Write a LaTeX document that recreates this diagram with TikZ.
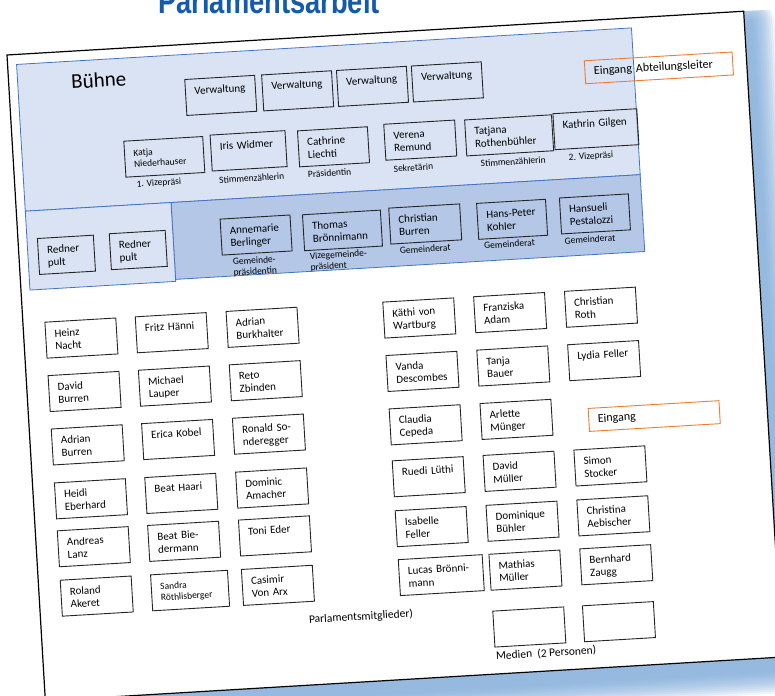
\documentclass[tikz,border=0pt]{standalone}
\usepackage{fontspec}
\setmainfont{Carlito}
\newfontfamily\headfont[FakeStretch=0.78]{Liberation Sans}

\definecolor{stagelight}{RGB}{218,227,243}
\definecolor{stagedark}{RGB}{180,199,231}
\definecolor{stageline}{RGB}{68,114,196}
\definecolor{doorline}{RGB}{237,125,49}
\definecolor{headblue}{RGB}{20,92,170}
\definecolor{glow}{RGB}{120,166,214}

\tikzset{
  seat/.style={draw=black!85, line width=0.9pt, text width=#1, align=left,
    inner xsep=9, inner ysep=4, text height=11.5, text depth=16.5,
    font=\fontsize{11}{12.7}\selectfont},
  seat/.default=53,
  smallname/.style={font=\fontsize{9.5}{11}\selectfont},
  role/.style={inner sep=0, align=left, font=\fontsize{9.5}{11}\selectfont},
  door/.style={draw=doorline, line width=0.9pt, text width=#1, align=left,
    inner xsep=9, minimum height=23, font=\fontsize{12}{14}\selectfont},
  zone/.style={draw=stageline, line width=0.8pt}
}

\begin{document}
\begin{tikzpicture}[x=1pt, y=-1pt]
\useasboundingbox (0,0) rectangle (775,695);
% Title
\node[headblue, anchor=base, font=\headfont\bfseries\fontsize{35}{40}\selectfont] (title) at (269,14) {Parlamentsarbeit};

% Sheet, tilted
\begin{scope}[shift={(7,55)}, rotate=3.4, transform shape]
% soft shadow
\begin{scope}
\clip (0,0) rectangle (800,720);
\foreach \r in {2,4,...,24}
  \fill[glow, opacity=0.12, rounded corners=\r] (6-\r,12-\r) rectangle (744+\r,659+\r);
\end{scope}
\draw[line width=1.2pt, fill=white] (0,0) rectangle (738,647);

% Stage
\draw[zone, fill=stagelight] (9,10) rectangle (625,157);
\draw[zone, fill=stagedark] (155,157) rectangle (625,234);
\draw[zone, fill=stagelight] (9,157) rectangle (155,236);
\node[font=\fontsize{21}{25}\selectfont] (stage) at (90,30.5) {Bühne};

% Administration
\foreach \u [count=\i] in {211,288,363,438}
  \node[seat=52] (admin\i) at (\u,53) {Verwaltung};
\node[door=130] (gatehead) at (650,51.5) {Eingang Abteilungsleiter};

% Presidium
\node[seat=61, smallname] (katja) at (151,111) {Katja\\Niederhauser};
\node[seat=57] (iris) at (235.5,110) {Iris Widmer};
\node[seat=52] (cathrine) at (320.5,111) {Cathrine\\Liechti};
\node[seat=53] (verena) at (407.5,109.5) {Verena\\Remund};
\node[seat=69] (tatjana) at (496.5,110) {Tatjana\\Rothenbühler};
\node[seat=66] (kathrin) at (583.5,109) {Kathrin Gilgen};
\foreach \u/\v/\t [count=\i] in {144/137/1. Vizepräsi, 237/137.5/Stimmenzählerin,
    315/137/Präsidentin, 399/136.5/Sekretärin, 499/136.5/Stimmenzählerin, 577/136/2. Vizepräsi}
  \node[role] (role\i) at (\u,\v) {\t};

% Lecterns
\node[seat=38] (desk1) at (47.5,203) {Redner\\pult};
\node[seat=38] (desk2) at (119.5,202.5) {Redner\\pult};

% Council
\node[seat=52] (annemarie) at (238,194.5) {Annemarie\\Berlinger};
\node[seat=60] (thomas) at (324.5,195) {Thomas\\Brönnimann};
\node[seat=53] (christianb) at (407.5,193.5) {Christian\\Burren};
\node[seat=51] (hanspeter) at (494.5,194) {Hans-Peter\\Kohler};
\node[seat=51] (hansueli) at (577.5,193.5) {Hansueli\\Pestalozzi};
\node[role] (gp) at (235,226) {Gemeinde-\\präsidentin};
\node[role] (vgp) at (319,225) {Vizegemeinde-\\präsident};
\foreach \u [count=\i] in {406,490.5,571}
  \node[role] (council\i) at (\u,218.5) {Gemeinderat};

% Members, left block
\foreach \u/\v/\n/\t in {
    57.5/287/heinz/{Heinz\\Nacht}, 148/287/fritz/{Fritz Hänni}, 239/287/adrian/{Adrian\\Burkhalter},
    57.5/340.5/davidb/{David\\Burren}, 148/340.5/michael/{Michael\\Lauper}, 239/340.5/reto/{Reto\\Zbinden},
    57.5/394/adrianb/{Adrian\\Burren}, 148/394/erica/{Erica Kobel}, 239/394/ronald/{Ronald So-\\nderegger},
    57.5/448/heidi/{Heidi\\Eberhard}, 148/448/beath/{Beat Haari}, 239/448/dominic/{Dominic\\Amacher},
    57.5/496/andreas/{Andreas\\Lanz}, 148/496/beatb/{Beat Bie-\\dermann}, 239/496/toni/{Toni Eder},
    57.5/545.5/roland/{Roland\\Akeret}, 239/545.5/casimir/{Casimir\\Von Arx}}
  \node[seat] (\n) at (\u,\v) {\t};
\node[seat=59, smallname] (sandra) at (151,545.5) {Sandra\\Röthlisberger};

% Members, right block
\foreach \u/\v/\n/\t in {
    396/287/kaethi/{Käthi von\\Wartburg}, 487/287/franziska/{Franziska\\Adam}, 578/287/christianr/{Christian\\Roth},
    396/340.5/vanda/{Vanda\\Descombes}, 487/340.5/tanja/{Tanja\\Bauer}, 578/340.5/lydia/{Lydia Feller},
    396/394/claudia/{Claudia\\Cepeda}, 487/394/arlette/{Arlette\\Münger},
    396/446/ruedi/{Ruedi Lüthi}, 487/446/davidm/{David\\Müller}, 578/446/simon/{Simon\\Stocker},
    396/496/isabelle/{Isabelle\\Feller}, 487/496/dominique/{Dominique\\Bühler}, 578/496/christina/{Christina\\Aebischer},
    487/545/mathias/{Mathias\\Müller}, 578/545/bernhard/{Bernhard\\Zaugg}}
  \node[seat] (\n) at (\u,\v) {\t};
\node[seat=66] (lucas) at (402.7,545) {Lucas Brönni-\\mann};
\node[door=113] (gate) at (624.7,398.8) {Eingang};
\node[inner sep=0, font=\fontsize{11.5}{14}\selectfont] (members) at (320,582) {Parlamentsmitglieder)};

% Press
\node[seat] (press1) at (487.5,602) {};
\node[seat] (press2) at (577.3,602) {};
\node[anchor=west, inner sep=0, font=\fontsize{11.5}{14}\selectfont] (presslabel) at (452.5,629.3) {Medien~~(2 Personen)};
\end{scope}
\end{tikzpicture}
\end{document}
